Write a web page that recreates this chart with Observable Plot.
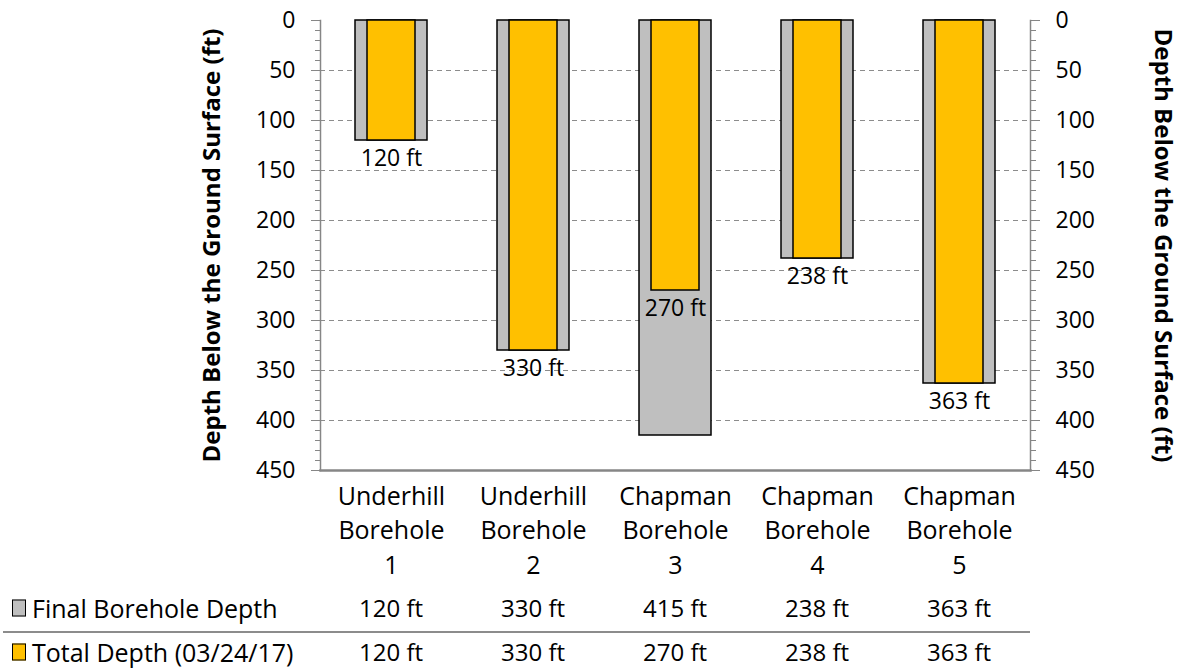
<!DOCTYPE html>
<html><head><meta charset="utf-8">
<script src="https://cdn.jsdelivr.net/npm/d3@7"></script>
<script src="https://cdn.jsdelivr.net/npm/@observablehq/plot@0.6"></script>
<style>
body{margin:0;background:#fff;font-family:"Open Sans",sans-serif;color:#000;}
#wrap{position:relative;width:1182px;height:669px;overflow:hidden;background:#fff;}
#wrap svg{position:absolute;left:0;top:0;}
.cell{position:absolute;font-size:24px;line-height:1;white-space:nowrap;transform:translate(-50%,-50%);}
.rowlabel{position:absolute;font-size:25px;line-height:1;white-space:nowrap;transform:translateY(-50%);}
.key{position:absolute;width:12px;height:15px;border:1px solid #000;transform:translateY(-50%);}
.sep{position:absolute;height:2px;background:#8c8c8c;}
</style></head><body><div id="wrap"></div>
<script>
const boreholes = ["Underhill Borehole 1","Underhill Borehole 2","Chapman Borehole 3","Chapman Borehole 4","Chapman Borehole 5"];
const finalDepth = [120,330,415,238,363];
const totalDepth = [120,330,270,238,363];
const seriesNames = ["Final Borehole Depth","Total Depth (03/24/17)"];
const seriesColors = ["#BFBFBF","#FFC000"];
const majorTicks = [0,50,100,150,200,250,300,350,400,450];
const minorTicks = d3.range(0,451,10);
const gridTicks = [50,100,150,200,250,300,350,400];
const axisTitle = "Depth Below the Ground Surface (ft)";

const rows = boreholes.map((b,i)=>({b, fin: finalDepth[i], tot: totalDepth[i]}));
const axisGrey = "#868686";

const plot = Plot.plot({
  width: 1182, height: 590,
  marginLeft: 320, marginRight: 152, marginTop: 20, marginBottom: 120,
  style: {fontFamily: "'Open Sans', sans-serif", fontSize: "23px", color: "#000", background: "transparent"},
  x: {domain: boreholes, padding: 0, label: null},
  y: {domain: [0,450], reverse: true, label: null},
  marks: [
    Plot.ruleY(gridTicks, {stroke: "#8c8c8c", strokeDasharray: "5,4", strokeWidth: 1}),
    Plot.barY(rows, {x: "b", y1: 0, y2: "fin", fill: seriesColors[0], stroke: "#000", strokeWidth: 1.5, insetLeft: 35, insetRight: 35}),
    Plot.barY(rows, {x: "b", y1: 0, y2: "tot", fill: seriesColors[1], stroke: "#000", strokeWidth: 1.5, insetLeft: 47, insetRight: 47}),
    Plot.text(rows, {x: "b", y: "tot", text: d => d.tot + " ft", dy: 18, fontSize: 23, fill: "#000"}),
    Plot.axisY({anchor: "left", ticks: minorTicks, tickSize: 5, tickFormat: () => "", stroke: axisGrey, label: null}),
    Plot.axisY({anchor: "left", ticks: majorTicks, tickSize: 9, tickPadding: 16, stroke: axisGrey, fill: "#000", fontSize: 23, label: null}),
    Plot.axisY({anchor: "right", ticks: minorTicks, tickSize: 5, tickFormat: () => "", stroke: axisGrey, label: null}),
    Plot.axisY({anchor: "right", ticks: majorTicks, tickSize: 9, tickPadding: 16, stroke: axisGrey, fill: "#000", fontSize: 23, label: null}),
    Plot.axisX({anchor: "bottom", tickSize: 0, tickPadding: 10, tickFormat: s => s.replace(/ /g, "\n"), lineHeight: 1.38, fill: "#000", fontSize: 25, label: null}),
    Plot.frame({anchor: "left", stroke: axisGrey, strokeWidth: 1.5}),
    Plot.frame({anchor: "right", stroke: axisGrey, strokeWidth: 1.5}),
    Plot.frame({anchor: "bottom", stroke: axisGrey, strokeWidth: 2.5}),
    Plot.text([axisTitle], {frameAnchor: "left", dx: -108, rotate: -90, textAnchor: "middle", lineAnchor: "middle", fontWeight: "bold", fontSize: 24, fill: "#000"}),
    Plot.text([axisTitle], {frameAnchor: "right", dx: 132, rotate: 90, textAnchor: "middle", lineAnchor: "middle", fontWeight: "bold", fontSize: 24, fill: "#000"})
  ]
});

const wrap = document.getElementById("wrap");
wrap.appendChild(plot);

// Data table below the chart, columns aligned to the x scale
const sx = plot.scale("x");
const colX = boreholes.map(b => sx.apply(b) + sx.bandwidth / 2);
const rowY = [608, 652];
const tableValues = [finalDepth, totalDepth];
tableValues.forEach((vals, r) => {
  const key = document.createElement("div");
  key.className = "key";
  key.style.left = "12px"; key.style.top = rowY[r] + "px";
  key.style.background = seriesColors[r];
  wrap.appendChild(key);
  const lab = document.createElement("div");
  lab.className = "rowlabel";
  lab.style.left = "32px"; lab.style.top = rowY[r] + "px";
  lab.textContent = seriesNames[r];
  wrap.appendChild(lab);
  vals.forEach((v, i) => {
    const c = document.createElement("div");
    c.className = "cell";
    c.style.left = colX[i] + "px"; c.style.top = rowY[r] + "px";
    c.textContent = v + " ft";
    wrap.appendChild(c);
  });
});
const sep = document.createElement("div");
sep.className = "sep";
sep.style.left = "3px"; sep.style.top = "631px";
sep.style.width = (sx.range[1] - 3) + "px";
wrap.appendChild(sep);
</script>
</body></html>
